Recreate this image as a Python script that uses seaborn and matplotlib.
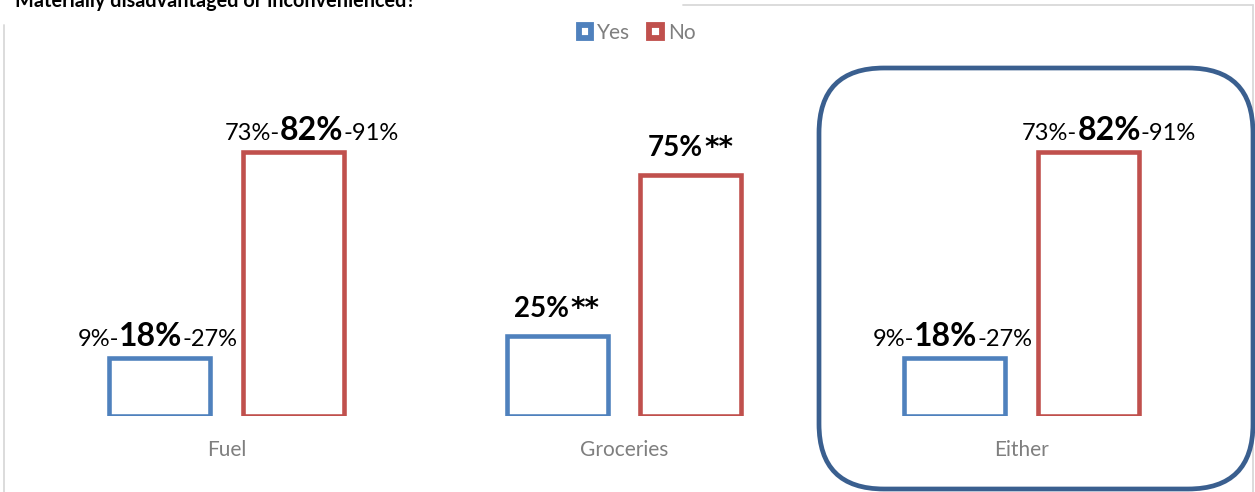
import matplotlib
matplotlib.use("Agg")
import matplotlib.pyplot as plt
from matplotlib.lines import Line2D
from matplotlib.patches import FancyBboxPatch, Rectangle
from matplotlib.offsetbox import TextArea, HPacker, AnnotationBbox
from matplotlib.transforms import IdentityTransform
import pandas as pd
import seaborn as sns

# Survey shares
categories = ["Fuel", "Groceries", "Either"]
answers = ["Yes", "No"]
yes_share = [0.18, 0.25, 0.18]
no_share = [0.82, 0.75, 0.82]

# Confidence ranges shown around the point estimates (None = significance marker instead)
yes_low = [0.09, None, 0.09]
yes_high = [0.27, None, 0.27]
no_low = [0.73, None, 0.73]
no_high = [0.91, None, 0.91]

title = "Materially disadvantaged or inconvenienced?"

BLUE = "#4F81BD"
RED = "#C0504D"
FRAME = "#3A5F8F"
FONT = "Lato"

sns.set_style("white")
plt.rcParams["font.family"] = [FONT, "DejaVu Sans"]

df = pd.DataFrame({
    "category": categories * 2,
    "answer": [answers[0]] * 3 + [answers[1]] * 3,
    "share": yes_share + no_share,
})

W, H = 1255, 492
fig = plt.figure(figsize=(W / 100, H / 100), dpi=100)
ax = fig.add_axes([27.75 / W, 76 / H, 1192.5 / W, 322 / H])

sns.barplot(data=df, x="category", y="share", hue="answer",
            hue_order=answers, order=categories,
            palette=[BLUE, RED], fill=False, width=0.673, gap=0.246,
            linewidth=3.3, errorbar=None, ax=ax)

ax.set_xlim(-0.5, 2.5)
ax.set_ylim(0, 1.0)
ax.set_xlabel("")
ax.set_ylabel("")
ax.set_yticks([])
for s in ax.spines.values():
    s.set_visible(False)
ax.tick_params(axis="x", length=0, pad=17, labelsize=15, labelcolor="#7F7F7F")
ax.patch.set_alpha(0)

# Legend with small hollow squares
handles = [Rectangle((0, 0), 1, 1, facecolor="white", edgecolor=c, linewidth=4.2)
           for c in (BLUE, RED)]
ax.get_legend().remove()
fig.legend(handles, answers, loc="center", bbox_to_anchor=(637 / W, 1 - 33 / H),
           ncol=2, frameon=False, fontsize=15, labelcolor="#7F7F7F",
           handlelength=0.6, handleheight=0.6, handletextpad=0.3,
           columnspacing=0.9, borderpad=0)

small = dict(fontsize=17, color="black", family=FONT)
big = dict(fontsize=23, color="black", family=FONT, fontweight="bold")
bold_mid = dict(fontsize=20, color="black", family=FONT, fontweight="bold")
stars = dict(fontsize=20, color="black", family="DejaVu Sans", fontweight="bold")


def place(box, x, y, dx, dy):
    ab = AnnotationBbox(box, (x, y), xybox=(dx, dy), xycoords="data",
                        boxcoords="offset points", box_alignment=(0.5, 0),
                        frameon=False, pad=0)
    ax.add_artist(ab)


def range_label(x, y, low, mid, high, dx, dy):
    parts = [TextArea(f"{low:.0%}-", textprops=small),
             TextArea(f"{mid:.0%}", textprops=big),
             TextArea(f"-{high:.0%}", textprops=small)]
    place(HPacker(children=parts, align="baseline", pad=0, sep=0), x, y, dx, dy)


def marker_label(x, y, mid, dy):
    parts = [TextArea(f"{mid:.0%}", textprops=bold_mid),
             TextArea("**", textprops=stars)]
    place(HPacker(children=parts, align="baseline", pad=0, sep=1), x, y, 0, dy)


lows = [yes_low, no_low]
highs = [yes_high, no_high]
shifts = [[-1.5, 0, -1.5], [13, 0, 15]]
for k, container in enumerate(ax.containers):
    for i, bar in enumerate(container):
        cx = bar.get_x() + bar.get_width() / 2
        h = bar.get_height()
        if lows[k][i] is None:
            marker_label(cx, h, h, 9)
        else:
            range_label(cx, h, lows[k][i], h, highs[k][i], shifts[k][i], 5)

# Rounded highlight around the combined group
hl = FancyBboxPatch((819, H - 489), 434, 421,
                    boxstyle="round,pad=0,rounding_size=65",
                    transform=IdentityTransform(), facecolor="none",
                    edgecolor=FRAME, linewidth=3.4, zorder=5)
fig.patches.append(hl)

# Chart area frame
frame_kw = dict(color="#D9D9D9", linewidth=1.3, transform=IdentityTransform())
fig.lines.append(Line2D([4, 4], [0, H - 25], **frame_kw))
fig.lines.append(Line2D([683, 1253], [H - 5, H - 5], **frame_kw))
fig.lines.append(Line2D([1253, 1253], [0, H - 5], **frame_kw))

# Heading, partly above the canvas
fig.text(15 / W, 1 - 7 / H, title, ha="left", va="baseline",
         fontsize=14.3, fontweight="bold", color="black")

fig.savefig("out.png", dpi=100)
